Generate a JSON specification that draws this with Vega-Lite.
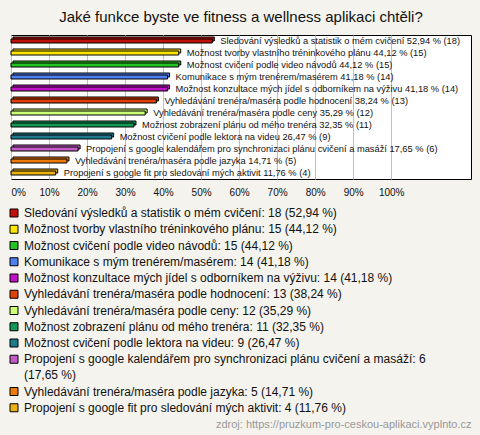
{
  "$schema": "https://vega.github.io/schema/vega-lite/v6.json",
  "width": 460,
  "height": 144,
  "autosize": {"type": "none"},
  "padding": {"left": 11, "top": 35, "right": 9, "bottom": 256},
  "background": "#f4f3ee",
  "title": {"text": "Jaké funkce byste ve fitness a wellness aplikaci chtěli?", "font": "Liberation Sans", "fontSize": 15, "fontWeight": "normal", "color": "#111111", "anchor": "middle", "offset": 10},
  "data": {"values": [
    {"name": "Sledování výsledků a statistik o mém cvičení", "count": 18, "pct": 52.94},
    {"name": "Možnost tvorby vlastního tréninkového plánu", "count": 15, "pct": 44.12},
    {"name": "Možnost cvičení podle video návodů", "count": 15, "pct": 44.12},
    {"name": "Komunikace s mým trenérem/masérem", "count": 14, "pct": 41.18},
    {"name": "Možnost konzultace mých jídel s odborníkem na výživu", "count": 14, "pct": 41.18},
    {"name": "Vyhledávání trenéra/maséra podle hodnocení", "count": 13, "pct": 38.24},
    {"name": "Vyhledávání trenéra/maséra podle ceny", "count": 12, "pct": 35.29},
    {"name": "Možnost zobrazení plánu od mého trenéra", "count": 11, "pct": 32.35},
    {"name": "Možnost cvičení podle lektora na videu", "count": 9, "pct": 26.47},
    {"name": "Propojení s google kalendářem pro synchronizaci plánu cvičení a masáží", "count": 6, "pct": 17.65},
    {"name": "Vyhledávání trenéra/maséra podle jazyka", "count": 5, "pct": 14.71},
    {"name": "Propojení s google fit pro sledování mých aktivit", "count": 4, "pct": 11.76}
  ]},
  "transform": [
    {"calculate": "replace(format(datum.pct, '.2f'), '.', ',')", "as": "pctstr"},
    {"calculate": "datum.name + ': ' + datum.count + ' (' + datum.pctstr + ' %)'", "as": "legendLabel"},
    {"calculate": "datum.name + ' ' + datum.pctstr + ' % (' + datum.count + ')'", "as": "barLabel"}
  ],
  "encoding": {
    "y": {"field": "name", "type": "nominal", "sort": null, "axis": null, "scale": {"paddingInner": 0, "paddingOuter": 0}},
    "x": {"field": "pct", "type": "quantitative", "scale": {"domain": [0, 121]},
      "axis": {"values": [0, 10, 20, 30, 40, 50, 60, 70, 80, 90, 100], "labelExpr": "datum.value + '%'", "grid": true, "gridColor": "#c0c0c0", "ticks": false, "domain": false, "labelFont": "Liberation Sans", "labelFontSize": 10, "labelColor": "#111111", "labelPadding": 8, "labelFlush": true,
        "title": "zdroj: https://pruzkum-pro-ceskou-aplikaci.vyplnto.cz", "titleAnchor": "end", "titleAlign": "right", "titleBaseline": "middle", "titleY": 245, "titleFont": "Liberation Sans", "titleFontSize": 11, "titleFontWeight": "normal", "titleColor": "#999999"}},
    "color": {"field": "legendLabel", "type": "nominal", "sort": null,
      "scale": {"range": ["#c0120a", "#ffe600", "#22c322", "#4f7ff0", "#c010c8", "#e0400a", "#ccff77", "#119955", "#1f7b8c", "#c45cc8", "#ee7a0a", "#e8b010"]},
      "legend": {"orient": "none", "legendX": -3, "legendY": 172, "direction": "vertical", "title": null, "padding": 0,
        "symbolType": "square", "symbolSize": 64, "symbolStrokeColor": "black", "symbolStrokeWidth": 1, "symbolOpacity": 1,
        "labelFont": "Liberation Sans", "labelFontSize": 12, "labelColor": "#111111", "labelLimit": 600, "labelOffset": 4, "rowPadding": 4.25,
        "labelExpr": "length(datum.label) > 75 ? [substring(datum.label, 0, indexof(datum.label, ' (')), substring(datum.label, indexof(datum.label, ' (') + 1)] : datum.label",
        "encode": {"labels": {"update": {"lineHeight": {"value": 16}}}}}}
  },
  "layer": [
    {
      "mark": {"type": "bar", "height": 4, "yOffset": -2, "xOffset": 2, "x2Offset": 2, "stroke": "black", "strokeWidth": 1, "opacity": 1}
    },
    {
      "mark": {"type": "bar", "height": 4, "stroke": "black", "strokeWidth": 1, "opacity": 1}
    },
    {
      "mark": {"type": "text", "align": "left", "baseline": "middle", "dx": 8, "font": "Liberation Sans", "fontSize": 9.3, "color": "#111111"},
      "encoding": {"text": {"field": "barLabel"}, "color": {"value": "#111111"}}
    }
  ],
  "config": {"view": {"stroke": "black", "strokeWidth": 1, "fill": "white"}}
}
